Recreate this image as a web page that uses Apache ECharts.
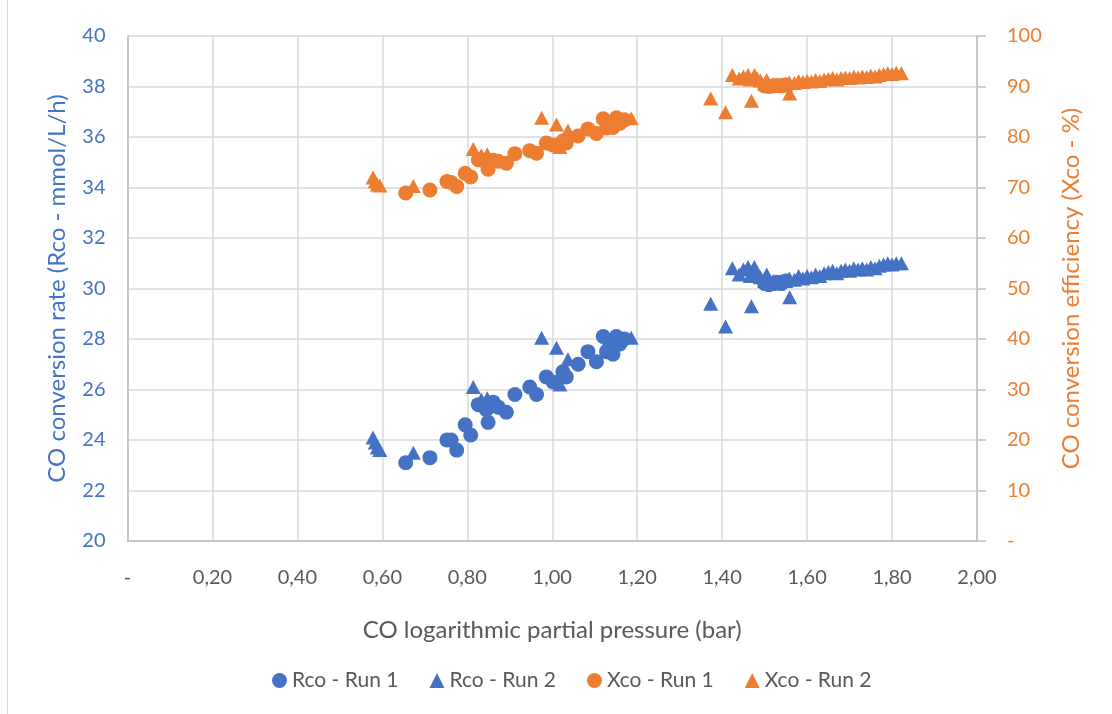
<!DOCTYPE html>
<html>
<head>
<meta charset="utf-8">
<script src="https://cdn.jsdelivr.net/npm/echarts@6/dist/echarts.min.js"></script>
<style>
  html, body { margin: 0; padding: 0; background: #fff; }
  #chart { width: 1112px; height: 714px; }
</style>
</head>
<body>
<div id="chart"></div>
<script>
// values, [pressure, value]
const rcoRun1 = [
  [0.655, 23.1], [0.712, 23.3], [0.752, 24.0], [0.762, 24.0], [0.775, 23.6],
  [0.795, 24.6], [0.808, 24.2], [0.826, 25.4], [0.845, 25.2], [0.849, 24.7],
  [0.861, 25.5], [0.873, 25.3], [0.892, 25.1], [0.912, 25.8], [0.947, 26.1],
  [0.963, 25.8], [0.986, 26.5], [1.002, 26.3], [1.025, 26.7], [1.033, 26.5],
  [1.061, 27.0], [1.084, 27.5], [1.104, 27.1], [1.12, 28.1], [1.128, 27.5],
  [1.135, 27.7], [1.143, 27.4], [1.151, 28.1], [1.159, 27.8], [1.17, 28.0],
  [1.50, 30.2], [1.51, 30.15], [1.52, 30.2], [1.53, 30.25], [1.54, 30.2], [1.55, 30.3]
];
const rcoRun2 = [
  [0.578, 24.1], [0.583, 23.9], [0.588, 23.7], [0.594, 23.6], [0.673, 23.5],
  [0.814, 26.1], [0.833, 25.6], [0.847, 25.65], [0.975, 28.05], [1.01, 27.65],
  [1.018, 26.2], [1.037, 27.2], [1.186, 28.05],
  [1.373, 29.4], [1.408, 28.5], [1.424, 30.8], [1.44, 30.55], [1.45, 30.75],
  [1.461, 30.85], [1.466, 30.5], [1.476, 30.85], [1.482, 30.6], [1.469, 29.3],
  [1.49, 30.45], [1.50, 30.3], [1.505, 30.55], [1.51, 30.2], [1.52, 30.3],
  [1.53, 30.2], [1.54, 30.3], [1.55, 30.3], [1.558, 30.4], [1.559, 29.65],
  [1.57, 30.35], [1.58, 30.5], [1.59, 30.4], [1.60, 30.5], [1.61, 30.45],
  [1.62, 30.55], [1.63, 30.5], [1.64, 30.6], [1.65, 30.65], [1.66, 30.7],
  [1.67, 30.6], [1.68, 30.7], [1.69, 30.75], [1.70, 30.7], [1.71, 30.8],
  [1.72, 30.75], [1.73, 30.8], [1.74, 30.75], [1.75, 30.85], [1.76, 30.8],
  [1.77, 30.9], [1.78, 30.95], [1.79, 31.0], [1.80, 30.95], [1.81, 31.0], [1.822, 31.0]
];
const xcoRun1 = [
  [0.655, 68.9], [0.712, 69.5], [0.752, 71.2], [0.762, 71.0], [0.775, 70.2],
  [0.795, 72.8], [0.808, 72.1], [0.826, 75.5], [0.845, 74.8], [0.849, 73.6],
  [0.861, 75.4], [0.873, 75.2], [0.892, 74.8], [0.912, 76.7], [0.947, 77.3],
  [0.963, 76.8], [0.986, 78.8], [1.002, 78.4], [1.025, 79.2], [1.033, 78.8],
  [1.061, 80.2], [1.084, 81.6], [1.104, 80.7], [1.12, 83.6], [1.128, 81.8],
  [1.135, 82.8], [1.143, 81.9], [1.151, 83.8], [1.159, 82.7], [1.17, 83.4],
  [1.50, 90.1], [1.51, 90.0], [1.52, 90.1], [1.53, 90.2], [1.54, 90.1], [1.55, 90.3]
];
const xcoRun2 = [
  [0.578, 72.0], [0.583, 71.2], [0.588, 70.6], [0.594, 70.4], [0.673, 70.3],
  [0.814, 77.6], [0.833, 76.4], [0.847, 76.6], [0.975, 83.8], [1.01, 82.5],
  [1.018, 78.0], [1.037, 81.3], [1.186, 83.7],
  [1.373, 87.6], [1.408, 84.9], [1.424, 92.3], [1.44, 91.6], [1.45, 92.0],
  [1.461, 92.3], [1.466, 91.4], [1.476, 92.3], [1.482, 91.7], [1.469, 87.2],
  [1.49, 91.2], [1.50, 90.5], [1.505, 91.3], [1.51, 90.2], [1.52, 90.5],
  [1.53, 90.2], [1.54, 90.5], [1.55, 90.6], [1.558, 90.8], [1.559, 88.6],
  [1.57, 90.7], [1.58, 91.1], [1.59, 90.9], [1.60, 91.1], [1.61, 91.0],
  [1.62, 91.3], [1.63, 91.1], [1.64, 91.4], [1.65, 91.5], [1.66, 91.7],
  [1.67, 91.4], [1.68, 91.7], [1.69, 91.8], [1.70, 91.7], [1.71, 92.0],
  [1.72, 91.8], [1.73, 92.0], [1.74, 91.9], [1.75, 92.2], [1.76, 92.0],
  [1.77, 92.3], [1.78, 92.5], [1.79, 92.6], [1.80, 92.5], [1.81, 92.7], [1.822, 92.6]
];
const seriesNames = ['Rco - Run 1', 'Rco - Run 2', 'Xco - Run 1', 'Xco - Run 2'];

const BLUE = '#4472C4';
const ORANGE = '#ED7D31';
const GREY = '#595959';
const FONT = 'Lato';

const chart = echarts.init(document.getElementById('chart'));

function dash(v, txt) {
  return v === 0 ? '-' : txt;
}

function scatter(name, data, color, symbol, yIndex) {
  return {
    name: name,
    type: 'scatter',
    yAxisIndex: yIndex,
    data: data,
    symbol: symbol,
    symbolSize: symbol === 'circle' ? 15 : [15, 14],
    itemStyle: { color: color, opacity: 1 },
    emphasis: { disabled: true }
  };
}

chart.setOption({
  animation: false,
  textStyle: { fontFamily: FONT },
  grid: { left: 127.5, right: 135, top: 36, bottom: 173, containLabel: false },
  graphic: [{
    type: 'line',
    shape: { x1: 7.5, y1: 0, x2: 7.5, y2: 714 },
    style: { stroke: '#D9D9D9', lineWidth: 1 }
  }],
  legend: {
    data: seriesNames.map((n, i) => ({ name: n, icon: i % 2 === 0 ? 'circle' : 'triangle' })),
    bottom: 18,
    left: 267,
    itemWidth: 15,
    itemHeight: 15,
    itemGap: 31,
    textStyle: { color: GREY, fontSize: 21, fontFamily: FONT }
  },
  xAxis: {
    type: 'value',
    min: 0,
    max: 2,
    interval: 0.2,
    name: 'CO logarithmic partial pressure (bar)',
    nameLocation: 'middle',
    nameGap: 77,
    nameTextStyle: { color: GREY, fontSize: 24, fontFamily: FONT },
    axisLine: { show: true, lineStyle: { color: '#BFBFBF', width: 1.5 } },
    axisTick: { show: false },
    splitLine: { show: true, lineStyle: { color: '#D9D9D9', width: 1.5 } },
    axisLabel: {
      color: GREY,
      fontSize: 20,
      margin: 27,
      formatter: v => dash(v, v.toFixed(2).replace('.', ','))
    }
  },
  yAxis: [{
    type: 'value',
    min: 20,
    max: 40,
    interval: 2,
    position: 'left',
    name: 'CO conversion rate (Rco - mmol/L/h)',
    nameLocation: 'middle',
    nameGap: 58,
    nameTextStyle: { color: BLUE, fontSize: 24, fontFamily: FONT },
    axisLine: { show: true, lineStyle: { color: '#BFBFBF', width: 1.5 } },
    axisTick: { show: false },
    splitLine: { show: true, lineStyle: { color: '#D9D9D9', width: 1.5 } },
    axisLabel: { color: BLUE, fontSize: 20, margin: 22 }
  }, {
    type: 'value',
    min: 0,
    max: 100,
    interval: 10,
    position: 'right',
    name: 'CO conversion efficiency (Xco - %)',
    nameLocation: 'middle',
    nameGap: 82,
    nameRotate: 90,
    nameTextStyle: { color: ORANGE, fontSize: 24, fontFamily: FONT },
    axisLine: { show: true, lineStyle: { color: '#BFBFBF', width: 1.5 } },
    axisTick: { show: true, length: 9, lineStyle: { color: '#BFBFBF', width: 1.5 } },
    splitLine: { show: false },
    axisLabel: {
      color: ORANGE,
      fontSize: 20,
      margin: 30,
      formatter: v => dash(v, String(v))
    }
  }],
  series: [
    scatter(seriesNames[0], rcoRun1, BLUE, 'circle', 0),
    scatter(seriesNames[1], rcoRun2, BLUE, 'triangle', 0),
    scatter(seriesNames[2], xcoRun1, ORANGE, 'circle', 1),
    scatter(seriesNames[3], xcoRun2, ORANGE, 'triangle', 1)
  ]
});

window.addEventListener('resize', () => chart.resize());
</script>
</body>
</html>
